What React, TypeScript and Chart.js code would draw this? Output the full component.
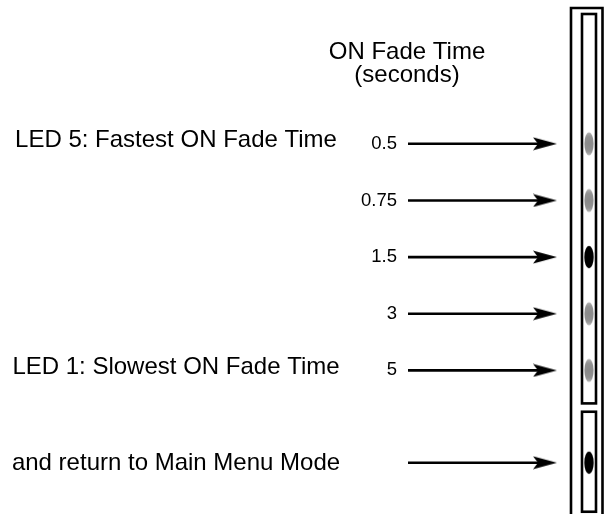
import { useEffect, useRef } from "react";
import { Chart, registerables } from "chart.js";

Chart.register(...registerables);

// ---------- data ----------
const titleLines = ["ON Fade Time", "(seconds)"];
const fadeTimes = ["0.5", "0.75", "1.5", "3", "5"];
const ledStates = ["dim", "dim", "lit", "dim", "dim"];
const sideLabels = ["LED 5: Fastest ON Fade Time", "", "", "", "LED 1: Slowest ON Fade Time"];
const returnLabel = "and return to Main Menu Mode";
const returnLedState = "lit";

// ---------- layout (not data) ----------
const W = 605;
const H = 514;
const ROW0_PX = 143.8;
const ROW_STEP_PX = 56.65;
const RETURN_ROW = 5.63;
const COL = { label: 176, value: 397, arrowStart: 408, arrowTip: 557, led: 589, title: 407 };
const FONT = "'Liberation Sans', Arial, Helvetica, sans-serif";

function makeHead(): HTMLCanvasElement {
  const c = document.createElement("canvas");
  c.width = 24;
  c.height = 14;
  const g = c.getContext("2d")!;
  g.fillStyle = "#000";
  g.beginPath();
  g.moveTo(24, 7);
  g.lineTo(0, 0.5);
  g.lineTo(5, 7);
  g.lineTo(0, 13.5);
  g.closePath();
  g.fill();
  return c;
}

function makeLed(state: string): HTMLCanvasElement {
  const c = document.createElement("canvas");
  c.width = 12;
  c.height = 26;
  const g = c.getContext("2d")!;
  g.beginPath();
  if (state === "lit") {
    g.ellipse(6, 13, 4.7, 11.2, 0, 0, Math.PI * 2);
    g.fillStyle = "#000";
    g.fill();
  } else {
    g.ellipse(6, 13, 4.6, 11.6, 0, 0, Math.PI * 2);
    const grad = g.createRadialGradient(6, 13, 1, 6, 13, 11.5);
    grad.addColorStop(0, "#8a8a8a");
    grad.addColorStop(0.6, "#929292");
    grad.addColorStop(1, "#b4b4b4");
    g.fillStyle = grad;
    g.fill();
  }
  return c;
}

export default function App() {
  const ref = useRef<HTMLCanvasElement | null>(null);

  useEffect(() => {
    if (!ref.current) return;
    const head = makeHead();
    const rows = fadeTimes.map((_, i) => i);
    const allRows = [...rows, RETURN_ROW];
    const allStates = [...ledStates, returnLedState];

    const arrowDatasets = allRows.map((r) => ({
      type: "line" as const,
      data: [
        { x: COL.arrowStart, y: r },
        { x: COL.arrowTip - head.width / 2, y: r },
      ],
      borderColor: "#000",
      borderWidth: 2.6,
      pointRadius: [0, 5],
      pointStyle: head,
      pointRotation: 0,
      showLine: true,
      fill: false,
    }));

    const ledDataset = {
      type: "scatter" as const,
      data: allRows.map((r) => ({ x: COL.led, y: r })),
      pointStyle: allStates.map((s) => makeLed(s)),
      pointRadius: 6,
    };

    const yMin = -ROW0_PX / ROW_STEP_PX;
    const yMax = yMin + H / ROW_STEP_PX;

    const decor = {
      id: "decor",
      beforeDatasetsDraw(chart: any) {
        const ctx = chart.ctx as CanvasRenderingContext2D;
        const xs = chart.scales.x;
        const ys = chart.scales.y;
        const led = xs.getPixelForValue(COL.led);
        const lastRow = ys.getPixelForValue(rows[rows.length - 1]);
        const ret = ys.getPixelForValue(RETURN_ROW);
        ctx.save();
        ctx.strokeStyle = "#000";
        ctx.lineWidth = 2.6;
        // outer housing
        ctx.beginPath();
        ctx.moveTo(led - 18, H + 10);
        ctx.lineTo(led - 18, 8);
        ctx.lineTo(led + 13.5, 8);
        ctx.lineTo(led + 13.5, H + 10);
        ctx.stroke();
        // inner windows
        ctx.strokeRect(led - 7, 14, 14, lastRow + 33 - 14);
        ctx.strokeRect(led - 7, ret - 51, 14, 100);
        ctx.restore();
      },
      afterDraw(chart: any) {
        const ctx = chart.ctx as CanvasRenderingContext2D;
        const xs = chart.scales.x;
        const ys = chart.scales.y;
        ctx.save();
        ctx.fillStyle = "#000";
        ctx.textBaseline = "middle";
        // title
        ctx.font = `24px ${FONT}`;
        ctx.textAlign = "center";
        ctx.fillText(titleLines[0], xs.getPixelForValue(COL.title), 52);
        ctx.fillText(titleLines[1], xs.getPixelForValue(COL.title), 75);
        // side labels
        sideLabels.forEach((t, i) => {
          if (!t) return;
          ctx.fillText(t, xs.getPixelForValue(COL.label), ys.getPixelForValue(i) - 3);
        });
        ctx.fillText(returnLabel, xs.getPixelForValue(COL.label), ys.getPixelForValue(RETURN_ROW) + 1);
        // fade time values
        ctx.font = `18.5px ${FONT}`;
        ctx.textAlign = "right";
        fadeTimes.forEach((t, i) => {
          ctx.fillText(t, xs.getPixelForValue(COL.value), ys.getPixelForValue(i));
        });
        ctx.restore();
      },
    };

    const chart = new Chart(ref.current, {
      type: "scatter",
      data: { datasets: [...arrowDatasets, ledDataset] as any },
      options: {
        animation: false,
        responsive: false,
        devicePixelRatio: 1,
        layout: { padding: 0, autoPadding: false },
        plugins: { legend: { display: false }, tooltip: { enabled: false }, title: { display: false } },
        events: [],
        scales: {
          x: { type: "linear", min: 0, max: W, display: false },
          y: { type: "linear", min: yMin, max: yMax, reverse: true, display: false },
        },
      },
      plugins: [decor],
    });
    return () => chart.destroy();
  }, []);

  return (
    <div style={{ position: "fixed", left: 0, top: 0, width: W, height: H, background: "#fff" }}>
      <canvas ref={ref} width={W} height={H} style={{ display: "block" }} />
    </div>
  );
}
